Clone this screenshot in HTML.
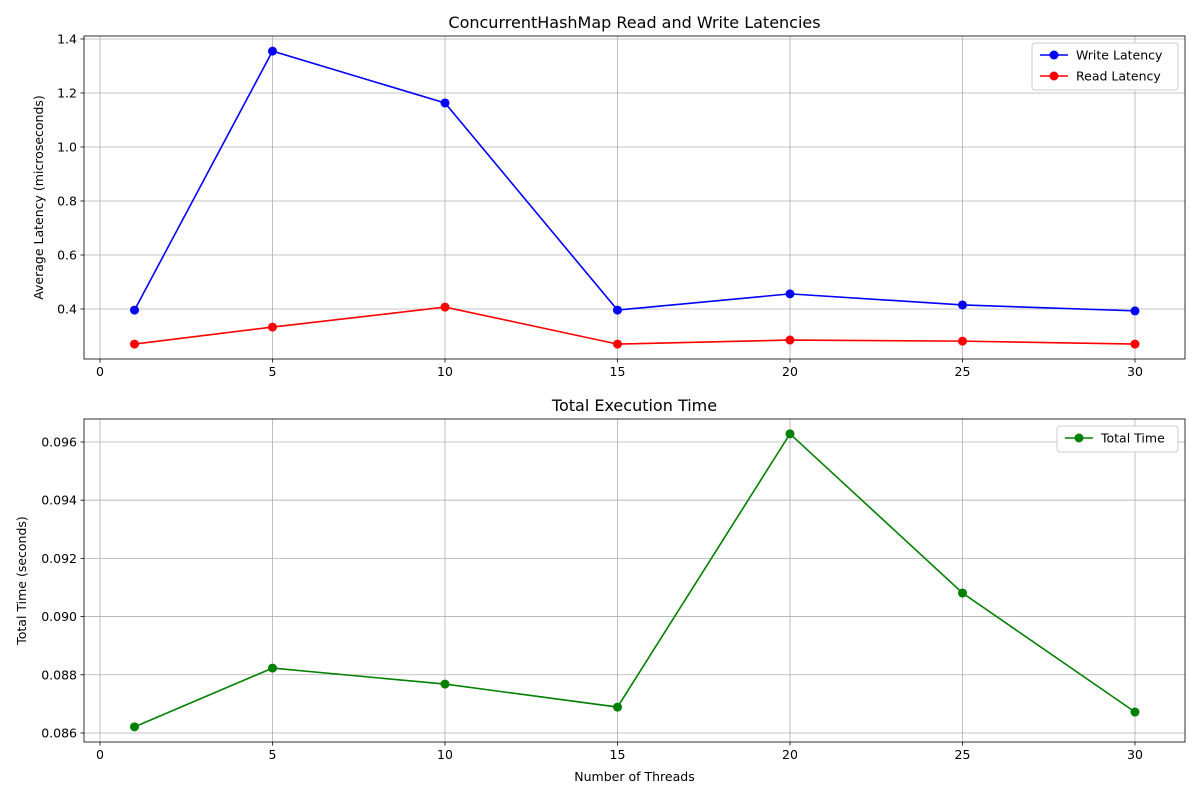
<!DOCTYPE html>
<html><head><meta charset="utf-8"><style>
body{margin:0;background:#fff;font-family:"Liberation Sans","DejaVu Sans",sans-serif;}
svg text{font-family:"DejaVu Sans","Liberation Sans",sans-serif;}
</style></head><body>
<svg id="c" width="1200" height="800" xmlns="http://www.w3.org/2000/svg"></svg>
<script>
const threads=[1,5,10,15,20,25,30];
const writeLatency=[0.396,1.355,1.163,0.396,0.456,0.415,0.393];
const readLatency=[0.270,0.333,0.407,0.270,0.285,0.281,0.270];
const totalTime=[0.08621,0.08823,0.08768,0.08689,0.09628,0.09081,0.08672];
const xTicks=[0,5,10,15,20,25,30];
const topTicks=[0.4,0.6,0.8,1.0,1.2,1.4];
const topTickLabels=["0.4","0.6","0.8","1.0","1.2","1.4"];
const botTicks=[0.086,0.088,0.090,0.092,0.094,0.096];
const botTickLabels=["0.086","0.088","0.090","0.092","0.094","0.096"];

const svg=document.getElementById('c');
const NS='http://www.w3.org/2000/svg';
function mk(t,a,p){const e=document.createElementNS(NS,t);for(const k in a)e.setAttribute(k,a[k]);(p||svg).appendChild(e);return e;}
const L=84,R=1185;
const xs=v=>L+(v-(-0.464))/(31.45+0.464)*(R-L);

function panel(name,top,bot,y0,y1,ticks,tlabels,title,ylabel,ylx){
  const g=mk('g',{});
  
  
  const ys=v=>bot-(v-y0)/(y1-y0)*(bot-top);
  xTicks.forEach((t,i)=>{
    const x=xs(t);
    const gl=mk('line',{x1:x,x2:x,y1:top,y2:bot,stroke:'#b0b0b0','stroke-width':0.8},g);
    
    mk('line',{x1:x,x2:x,y1:bot,y2:bot+3.5,stroke:'#000','stroke-width':0.8},g);
    const tx=mk('text',{x:x,y:bot+17,'font-size':12.5,'text-anchor':'middle'},g);tx.textContent=t;
    
  });
  ticks.forEach((t,i)=>{
    const y=ys(t);
    const gl=mk('line',{x1:L,x2:R,y1:y,y2:y,stroke:'#b0b0b0','stroke-width':0.8},g);
    
    mk('line',{x1:L-3.5,x2:L,y1:y,y2:y,stroke:'#000','stroke-width':0.8},g);
    const tx=mk('text',{x:L-7,y:y+4.5,'font-size':12.5,'text-anchor':'end'},g);tx.textContent=tlabels[i];
    
  });
  mk('rect',{x:L,y:top,width:R-L,height:bot-top,fill:'none',stroke:'#000','stroke-width':0.8},g);
  const tt=mk('text',{x:(L+R)/2,y:top-8,'font-size':16,'text-anchor':'middle'},g);tt.textContent=title;
  
  const yl=mk('text',{x:0,y:0,'font-size':12.5,'text-anchor':'middle',transform:`translate(${ylx},${(top+bot)/2}) rotate(-90)`},g);yl.textContent=ylabel;
  
  return {g,ys};
}
function series(p,vals,color,name){
  const pts=threads.map((t,i)=>xs(t)+','+p.ys(vals[i])).join(' ');
  const pl=mk('polyline',{points:pts,fill:'none',stroke:color,'stroke-width':1.6},p.g);
  
  threads.forEach((t,i)=>{
    const c=mk('circle',{cx:xs(t),cy:p.ys(vals[i]),r:4.5,fill:color},p.g);
    
  });
}
function legend(p,x,y,w,entries){
  const lg=mk('g',{},p.g);
  
  mk('rect',{x:x,y:y,width:w,height:entries.length*21+5,fill:'#fff',stroke:'#ccc',rx:3},lg);
  entries.forEach((e,i)=>{
    const cy=y+12+i*21;
    mk('line',{x1:x+8,x2:x+36,y1:cy,y2:cy,stroke:e[1],'stroke-width':1.6},lg);
    mk('circle',{cx:x+22,cy:cy,r:4.5,fill:e[1]},lg);
    const t=mk('text',{x:x+44,y:cy+4.5,'font-size':12.5},lg);t.textContent=e[0];
    
  });
}
const p1=panel('latency-panel',36,359,0.2148,1.411,topTicks,topTickLabels,'ConcurrentHashMap Read and Write Latencies','Average Latency (microseconds)',43);
series(p1,writeLatency,'#0000ff','write-latency');
series(p1,readLatency,'#ff0000','read-latency');
legend(p1,1032,43,146,[['Write Latency','#0000ff'],['Read Latency','#ff0000']]);
const p2=panel('total-time-panel',419,742,0.08569,0.09679,botTicks,botTickLabels,'Total Execution Time','Total Time (seconds)',26);
series(p2,totalTime,'#008000','total-time');
legend(p2,1057,426,121,[['Total Time','#008000']]);
const xl=mk('text',{x:(L+R)/2,y:781,'font-size':12.5,'text-anchor':'middle'});xl.textContent='Number of Threads';


</script>
</body></html>
